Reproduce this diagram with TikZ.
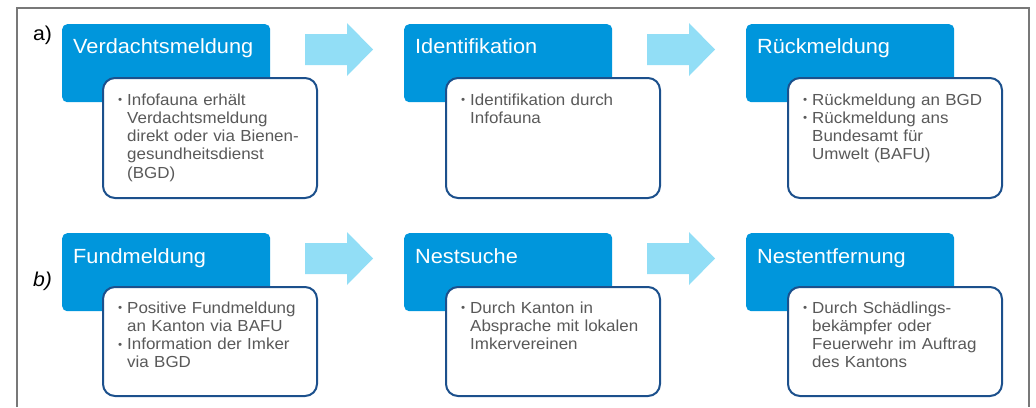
\documentclass[tikz,border=0pt]{standalone}
\usepackage{fontspec}
\setmainfont[FakeStretch=1.06]{Liberation Sans}
\usetikzlibrary{calc}
\definecolor{boxblue}{RGB}{0,150,220}
\definecolor{arrowblue}{RGB}{146,222,246}
\definecolor{lineblue}{RGB}{28,80,140}
\definecolor{txtgrey}{RGB}{89,89,89}
\definecolor{framegrey}{RGB}{120,120,120}
\newcommand\bitem[1]{\noindent\hangindent=9pt\hangafter=1\makebox[9pt][l]{\raisebox{1.5pt}{\fontsize{11}{11}\selectfont\textbullet}}#1\par}
\tikzset{
 bluebox/.style={fill=boxblue, rounded corners=5pt, minimum width=208pt, minimum height=78pt, anchor=north west, inner sep=0pt},
 whitebox/.style={fill=white, draw=lineblue, line width=2pt, rounded corners=12pt, minimum width=214pt, anchor=north west, inner sep=0pt},
 titletext/.style={text=white, font=\fontsize{20.5}{24}\selectfont, anchor=base west, inner sep=0pt},
 bodytext/.style={text=txtgrey, font=\fontsize{16}{18.3}\selectfont\raggedright, anchor=base west, inner sep=0pt, text width=200pt},
 flowarrow/.style={fill=arrowblue},
 rowlabel/.style={font=\fontsize{20}{24}\selectfont, anchor=base west, inner sep=0pt}
}
\begin{document}
\begin{tikzpicture}[x=1pt,y=-1pt]
\useasboundingbox (0,0) rectangle (1036,407);
\draw[framegrey, line width=1.5pt] (17,407) -- (17,8) -- (1029,8) -- (1029,407);
% labels
\node[rowlabel] (la) at (33,40) {a)};
\node[rowlabel, font=\fontsize{20}{24}\selectfont\itshape] (lb) at (33,286) {b)};
% arrows
\fill[flowarrow] (305,34) -- (347,34) -- (347,23) -- (373,49.5) -- (347,76) -- (347,65) -- (305,65) -- cycle;
\fill[flowarrow] (647,34) -- (689,34) -- (689,23) -- (715,49.5) -- (689,76) -- (689,65) -- (647,65) -- cycle;
\fill[flowarrow] (305,243) -- (347,243) -- (347,232) -- (373,258.5) -- (347,285) -- (347,274) -- (305,274) -- cycle;
\fill[flowarrow] (647,243) -- (689,243) -- (689,232) -- (715,258.5) -- (689,285) -- (689,274) -- (647,274) -- cycle;
% row a
\node[bluebox] (b1) at (62,24) {};
\node[bluebox] (b2) at (404,24) {};
\node[bluebox] (b3) at (746,24) {};
\node[titletext] (t1) at ($(b1.north west)+(11,29)$) {Verdachtsmeldung};
\node[titletext] (t2) at ($(b2.north west)+(11,29)$) {Identifikation};
\node[titletext] (t3) at ($(b3.north west)+(11,29)$) {Rückmeldung};
\node[whitebox, minimum height=120pt] (w1) at (102,77) {};
\node[whitebox, minimum height=120pt] (w2) at (445,77) {};
\node[whitebox, minimum height=120pt] (w3) at (787,77) {};
\node[bodytext] (x1) at ($(w1.north west)+(16,28)$) {\bitem{Infofauna erhält\newline Verdachtsmeldung\newline direkt oder via Bienen-\newline gesundheitsdienst\newline (BGD)}};
\node[bodytext] (x2) at ($(w2.north west)+(16,28)$) {\bitem{Identifikation durch\newline Infofauna}};
\node[bodytext] (x3) at ($(w3.north west)+(16,28)$) {\bitem{Rückmeldung an BGD}\bitem{Rückmeldung ans\newline Bundesamt für\newline Umwelt (BAFU)}};
% row b
\node[bluebox] (b4) at (62,233) {};
\node[bluebox] (b5) at (404,233) {};
\node[bluebox] (b6) at (746,233) {};
\node[titletext] (t4) at ($(b4.north west)+(11,30)$) {Fundmeldung};
\node[titletext] (t5) at ($(b5.north west)+(11,30)$) {Nestsuche};
\node[titletext] (t6) at ($(b6.north west)+(11,30)$) {Nestentfernung};
\node[whitebox, minimum height=109pt] (w4) at (102,286) {};
\node[whitebox, minimum height=109pt] (w5) at (445,286) {};
\node[whitebox, minimum height=109pt] (w6) at (787,286) {};
\node[bodytext] (x4) at ($(w4.north west)+(16,27)$) {\bitem{Positive Fundmeldung\newline an Kanton via BAFU}\bitem{Information der Imker\newline via BGD}};
\node[bodytext] (x5) at ($(w5.north west)+(16,27)$) {\bitem{Durch Kanton in\newline Absprache mit lokalen\newline Imkervereinen}};
\node[bodytext] (x6) at ($(w6.north west)+(16,27)$) {\bitem{Durch Schädlings-\newline bekämpfer oder\newline Feuerwehr im Auftrag\newline des Kantons}};
\end{tikzpicture}
\end{document}
